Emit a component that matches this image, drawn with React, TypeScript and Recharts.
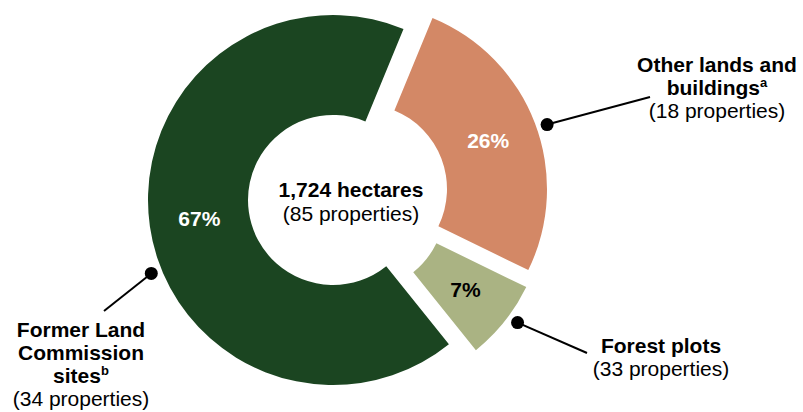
import React from 'react';
import { PieChart, Pie, Cell, Sector } from 'recharts';

// slices run clockwise from the top-right gap
const categories = ['Other lands and buildings', 'Forest plots', 'Former Land Commission sites'];
const shares = [26, 7, 67];
const propertyCounts = [18, 33, 34];
const titleLines = [['Other lands and', 'buildings'], ['Forest plots'], ['Former Land', 'Commission', 'sites']];
const footnotes = ['a', '', 'b'];
const totalHectares = '1,724';
const totalProperties = 85;

const sliceColors = ['#D38866', '#AAB383', '#1B4521'];
const valueColors = ['#FFFFFF', '#000000', '#FFFFFF'];

// pulled-out slices
const explode = [
  { dx: 29, dy: -11 },
  { dx: 27, dy: 6 },
  { dx: 0, dy: 0 },
];

// callout layout, relative to the pie centre
const callouts = [
  { angleAdj: -1.6, endX: 317, endY: -103, textX: 384, textY: -128 },
  { angleAdj: 2.1, endX: 254, endY: 153, textX: 328, textY: 153 },
  { angleAdj: 13.8, endX: -229, endY: 111, textX: -252, textY: 137 },
];

const data = categories.map((name, i) => ({ name, value: shares[i], idx: i }));

const RAD = Math.PI / 180;
const FONT = '"Liberation Sans", Arial, sans-serif';
const LINE = 23;

const SliceShape = (props: any) => {
  const i = props.payload?.idx ?? props.index ?? 0;
  const off = explode[i];
  return <Sector {...props} cx={props.cx + off.dx} cy={props.cy + off.dy} stroke="none" />;
};

const renderLabel = (props: any) => {
  const { cx, cy, midAngle, innerRadius, outerRadius, index } = props;
  const i = props.payload?.idx ?? index;
  const off = explode[i];
  const co = callouts[i];
  const ox = cx + off.dx;
  const oy = cy + off.dy;

  const rMid = (innerRadius + outerRadius) / 2;
  const vx = ox + rMid * Math.cos(-midAngle * RAD);
  const vy = oy + rMid * Math.sin(-midAngle * RAD);

  const a = midAngle + co.angleAdj;
  const rDot = outerRadius + 11;
  const dotX = ox + rDot * Math.cos(-a * RAD);
  const dotY = oy + rDot * Math.sin(-a * RAD);

  const lines = titleLines[i];
  const tx = cx + co.textX;
  const ty = cy + co.textY;

  return (
    <g>
      <text x={vx} y={vy} dy={7} textAnchor="middle" fill={valueColors[i]} fontSize={21} fontWeight="bold" fontFamily={FONT}>
        {shares[i]}%
      </text>
      <line x1={dotX} y1={dotY} x2={cx + co.endX} y2={cy + co.endY} stroke="#000" strokeWidth={2} />
      <circle cx={dotX} cy={dotY} r={6.5} fill="#000" />
      {lines.map((ln, k) => (
        <text key={k} x={tx} y={ty + k * LINE} textAnchor="middle" fill="#000" fontSize={21} fontWeight="bold" fontFamily={FONT}>
          {ln}
          {k === lines.length - 1 && footnotes[i] ? (
            <tspan fontSize={13} dy={-8}>{footnotes[i]}</tspan>
          ) : null}
        </text>
      ))}
      <text x={tx} y={ty + lines.length * LINE} textAnchor="middle" fill="#000" fontSize={21} fontFamily={FONT}>
        ({propertyCounts[i]} properties)
      </text>
    </g>
  );
};

const CX = 333;
const CY = 200;

export default function App() {
  return (
    <div style={{ position: 'absolute', left: 0, top: 0, width: 803, height: 412, background: '#fff' }}>
      <PieChart width={803} height={412} margin={{ top: 0, right: 0, bottom: 0, left: 0 }}>
        <Pie
          data={data}
          dataKey="value"
          nameKey="name"
          cx={CX}
          cy={CY}
          innerRadius={85}
          outerRadius={185}
          startAngle={67.6}
          endAngle={-292.4}
          paddingAngle={0}
          stroke="none"
          shape={SliceShape}
          inactiveShape={SliceShape}
          activeShape={SliceShape}
          label={renderLabel}
          labelLine={false}
          isAnimationActive={false}
        >
          {data.map((d, i) => (
            <Cell key={d.name} fill={sliceColors[i]} />
          ))}
        </Pie>
        <text x={CX + 18} y={CY - 3} textAnchor="middle" fill="#000" fontSize={21} fontWeight="bold" fontFamily={FONT}>
          {totalHectares} hectares
        </text>
        <text x={CX + 18} y={CY + 21} textAnchor="middle" fill="#000" fontSize={21} fontFamily={FONT}>
          ({totalProperties} properties)
        </text>
      </PieChart>
    </div>
  );
}
